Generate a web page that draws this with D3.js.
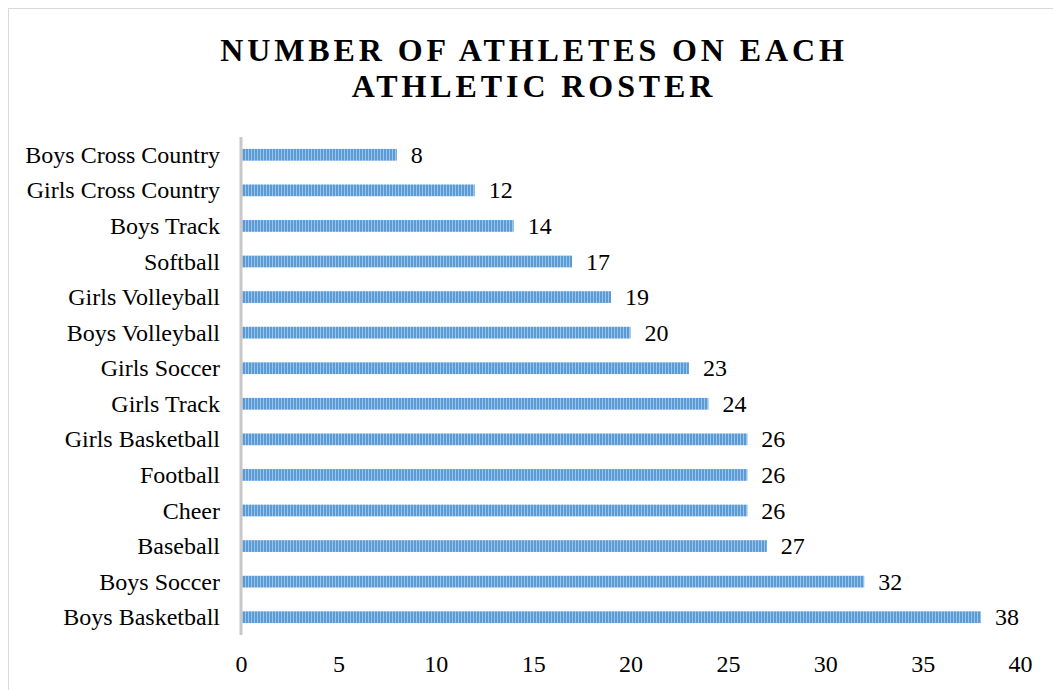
<!DOCTYPE html>
<html><head><meta charset="utf-8">
<script src="https://cdn.jsdelivr.net/npm/d3@7"></script>
<style>body{margin:0;background:#fff}svg{display:block}</style>
</head><body>
<svg id="c" width="1053" height="690"></svg>
<script>
const categories = ["Boys Cross Country","Girls Cross Country","Boys Track","Softball","Girls Volleyball","Boys Volleyball","Girls Soccer","Girls Track","Girls Basketball","Football","Cheer","Baseball","Boys Soccer","Boys Basketball"];
const values = [8,12,14,17,19,20,23,24,26,26,26,27,32,38];
const xTicks = [0,5,10,15,20,25,30,35,40];
const titleLines = ["NUMBER OF ATHLETES ON EACH","ATHLETIC ROSTER"];

const svg = d3.select("#c");
const font = "'Liberation Serif','Times New Roman',serif";

svg.append("rect").attr("x",8.5).attr("y",8.5).attr("width",1100).attr("height",700)
  .attr("fill","#fff").attr("stroke","#d9d9d9").attr("stroke-width",1);

const defs = svg.append("defs");
const pat = defs.append("pattern").attr("id","stripe").attr("patternUnits","userSpaceOnUse")
  .attr("width",3).attr("height",10);
pat.append("rect").attr("width",3).attr("height",10).attr("fill","#9cc3e8");
pat.append("rect").attr("width",2).attr("height",10).attr("fill","#5b9bd5");

svg.selectAll("text.title").data(titleLines).join("text")
  .attr("x",534).attr("y",(d,i)=>61+i*36)
  .attr("text-anchor","middle").attr("font-family",font).attr("font-weight","bold")
  .attr("font-size",32).attr("letter-spacing",3.9).attr("fill","#000").text(d=>d);

const x = d3.scaleLinear().domain([0,40]).range([241,1020]);
const y = d3.scaleBand().domain(categories).range([137,635]).paddingInner(0.67).paddingOuter(0.335);

svg.selectAll("rect.bar").data(values).join("rect")
  .attr("x",x(0)).attr("y",(d,i)=>y(categories[i]))
  .attr("width",d=>x(d)-x(0)).attr("height",y.bandwidth())
  .attr("fill","url(#stripe)");

svg.selectAll("text.val").data(values).join("text")
  .attr("x",d=>x(d)+14).attr("y",(d,i)=>y(categories[i])+y.bandwidth()/2+8)
  .attr("font-family",font).attr("font-size",24).attr("fill","#000").text(d=>d);

svg.selectAll("text.cat").data(categories).join("text")
  .attr("x",220).attr("y",d=>y(d)+y.bandwidth()/2+8)
  .attr("text-anchor","end").attr("font-family",font).attr("font-size",24).attr("fill","#000").text(d=>d);

svg.append("line").attr("x1",241).attr("x2",241).attr("y1",137).attr("y2",635)
  .attr("stroke","#c8c8c8").attr("stroke-width",3);

const ax = svg.append("g").attr("transform","translate(0,672)")
  .call(d3.axisBottom(x).tickValues(xTicks).tickSize(0).tickPadding(0));
ax.select(".domain").remove();
ax.selectAll("text").attr("font-family",font).attr("font-size",24).attr("fill","#000").attr("dy",0).attr("y",0);
</script>
</body></html>
